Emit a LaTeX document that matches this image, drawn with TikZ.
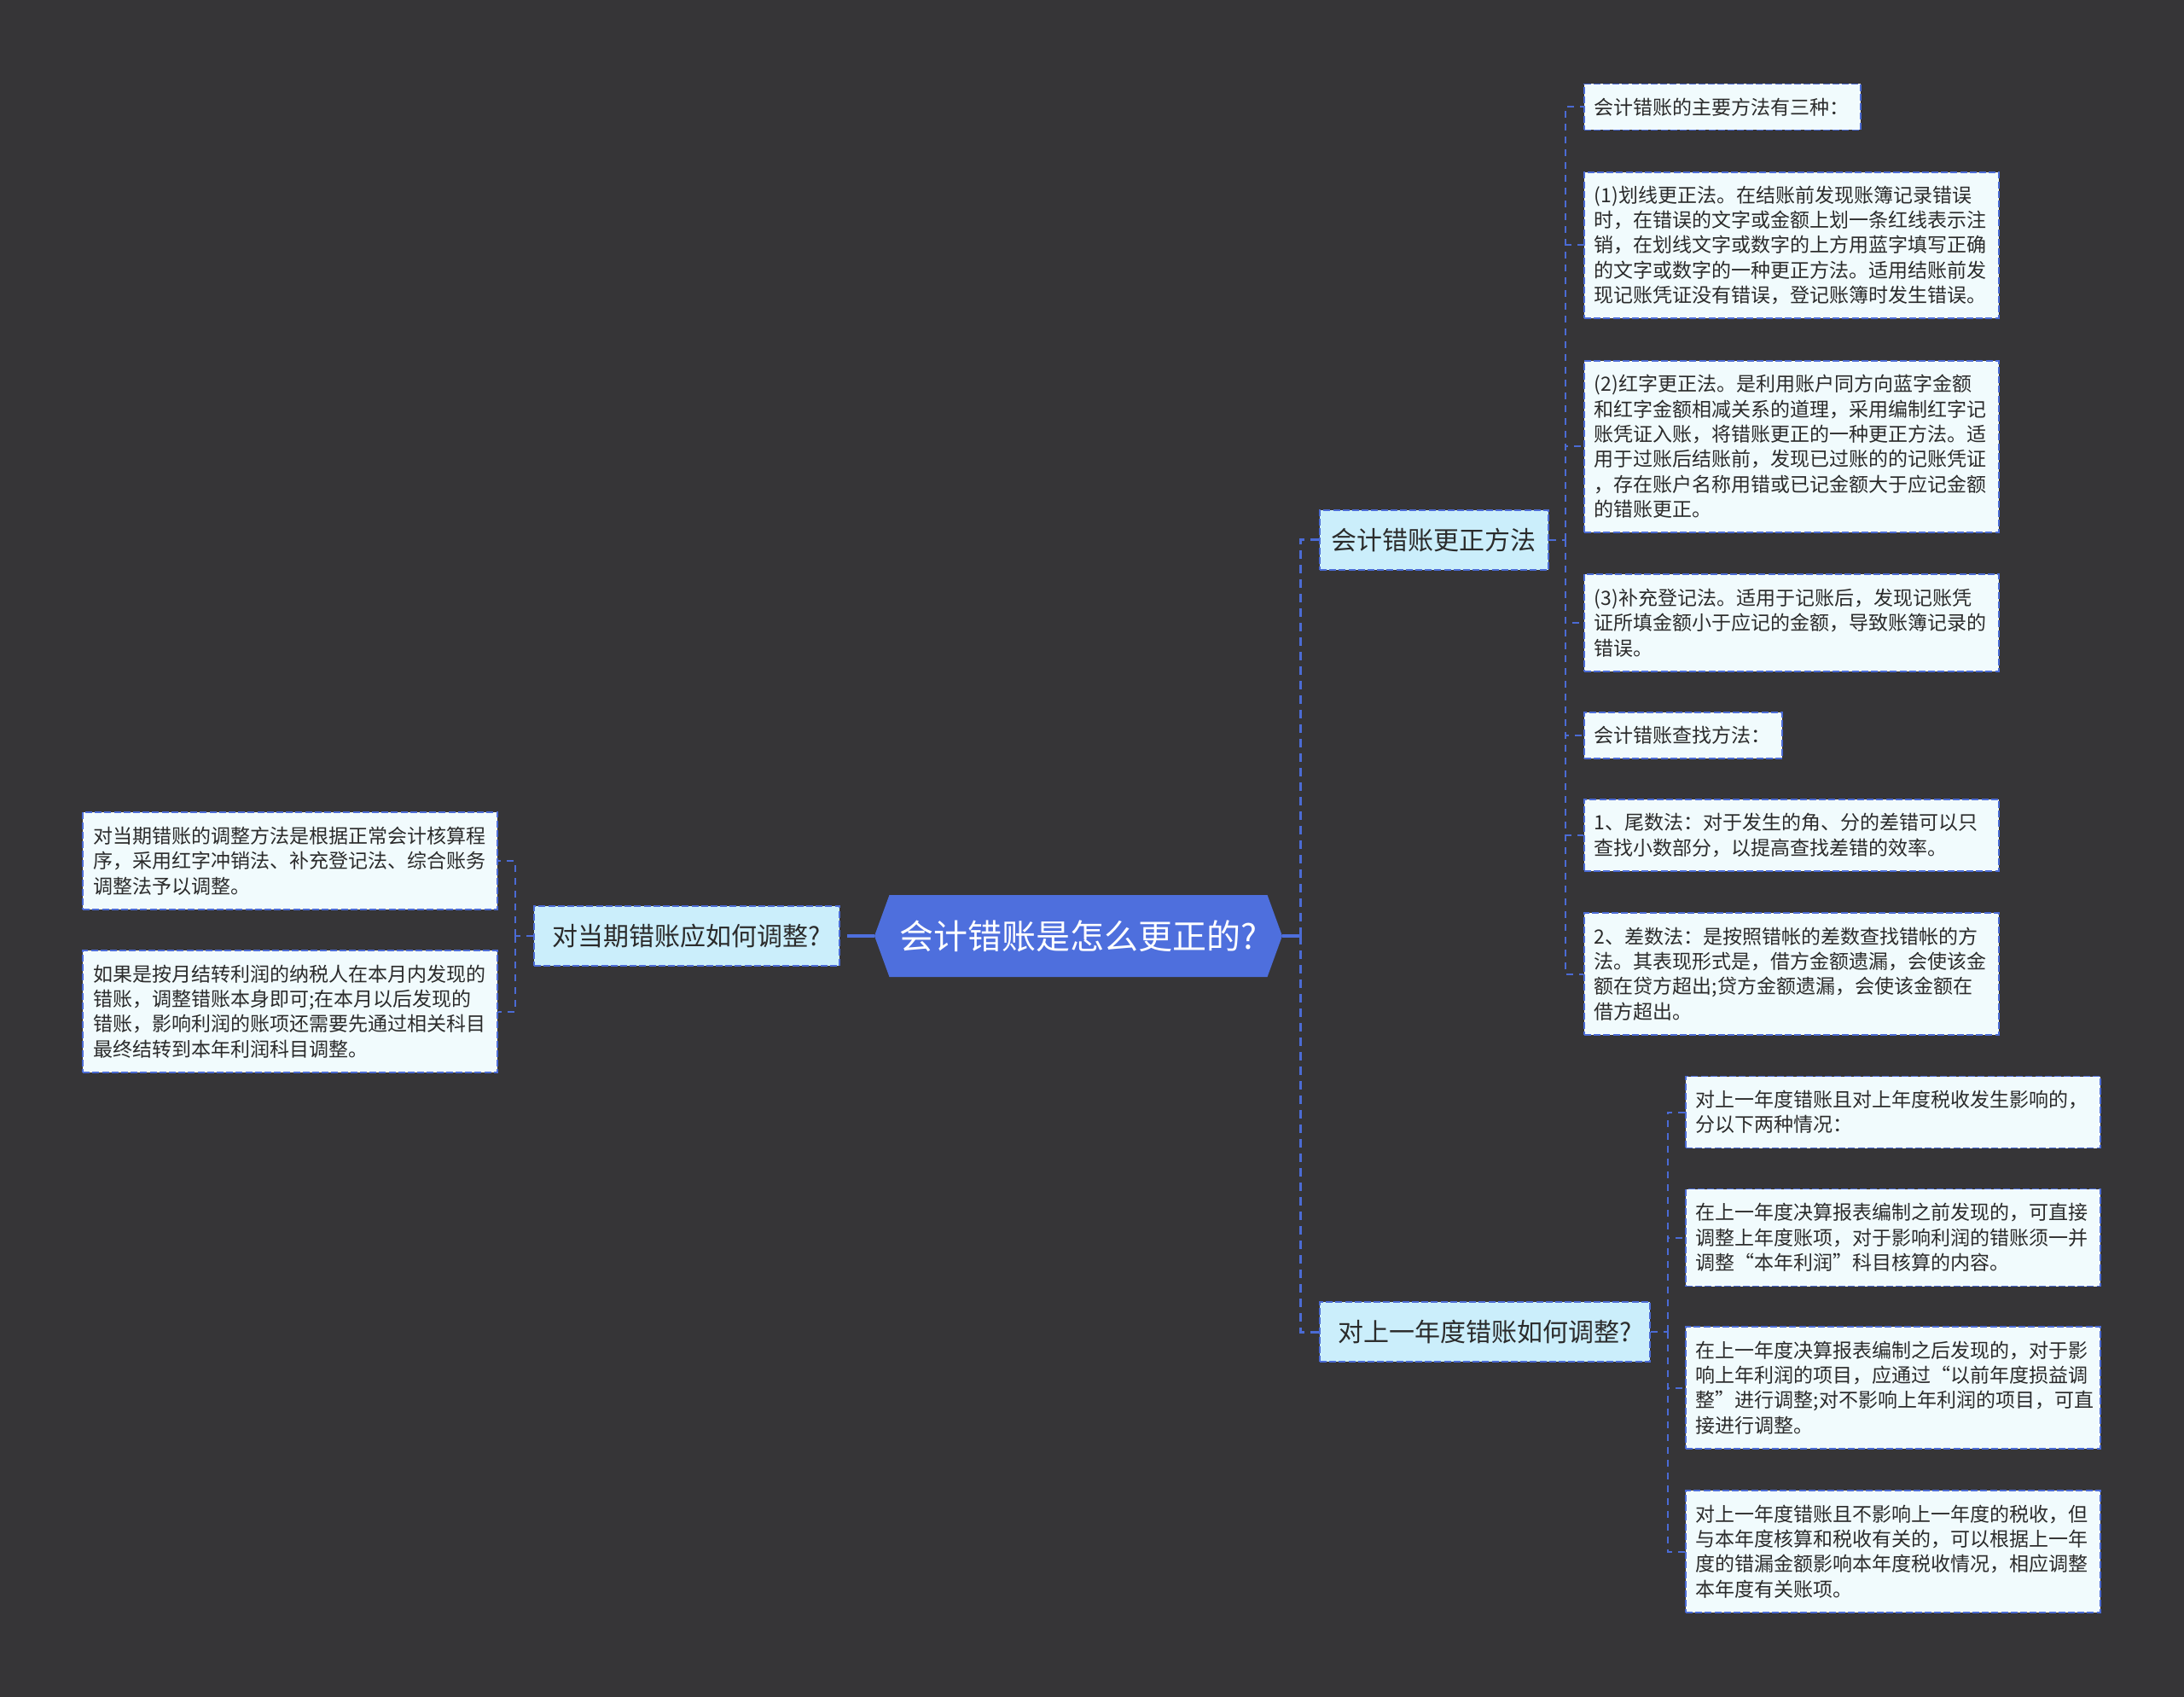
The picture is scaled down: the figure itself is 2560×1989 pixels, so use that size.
\documentclass[tikz,border=0pt]{standalone}
\usepackage{fontspec}
\setmainfont{Noto Sans CJK SC}
\usetikzlibrary{shapes.symbols}
\definecolor{canvas}{HTML}{363537}
\definecolor{hub}{HTML}{4E6FDD}
\definecolor{rim}{HTML}{4B6BD5}
\definecolor{topic}{HTML}{CBEEFB}
\definecolor{note}{HTML}{F1FBFD}
\definecolor{ink}{HTML}{2B2B2B}

\begin{document}
\begin{tikzpicture}[
    x=.5pt,y=-.5pt,
    hubnode/.style={signal,signal to=east and west,signal pointer angle=140,fill=hub,
        text=white,font=\fontsize{20}{23}\selectfont,minimum width=239pt,minimum height=48pt},
    topicnode/.style={draw=rim,fill=topic,text=ink,line width=.9pt,dash pattern=on 4pt off 1.6pt,
        font=\fontsize{15}{18}\selectfont,minimum height=35pt},
    notenode/.style={draw=rim,fill=note,text=ink,line width=.9pt,dash pattern=on 4pt off 1.6pt,
        font=\fontsize{11.5}{14.7}\selectfont,align=left,inner xsep=6pt,inner ysep=0pt,
        text width=231pt},
    stem/.style={draw=hub,line width=2pt,dash pattern=on 16pt off 4pt},
    trunk/.style={draw=rim,line width=1.5pt,dash pattern=on 5pt off 3.5pt},
    twig/.style={draw=rim,line width=1pt,dash pattern=on 4pt off 3.5pt}
]
    \path[fill=canvas] (0,0) rectangle (2560,1989);

    % centre and the three topics
    \node[hubnode] (root) at (1264,1097) {会计错账是怎么更正的?};
    \node[topicnode,anchor=west,minimum width=134pt] (fix) at (1546,633) {会计错账更正方法};
    \node[topicnode,anchor=west,minimum width=193.5pt] (prior) at (1546,1561) {对上一年度错账如何调整?};
    \node[topicnode,anchor=east,minimum width=179pt] (current) at (985,1097) {对当期错账应如何调整?};

    % notes under the correction methods
    \node[notenode,anchor=west,text width=150pt,minimum height=27pt] (fix1) at (1856,125.5)
        {会计错账的主要方法有三种：};
    \node[notenode,anchor=west,minimum height=85.5pt] (fix2) at (1856,287.5)
        {(1)划线更正法。在结账前发现账簿记录错误\\
         时，在错误的文字或金额上划一条红线表示注\\
         销，在划线文字或数字的上方用蓝字填写正确\\
         的文字或数字的一种更正方法。适用结账前发\\
         现记账凭证没有错误，登记账簿时发生错误。};
    \node[notenode,anchor=west,minimum height=100.5pt] (fix3) at (1856,523.5)
        {(2)红字更正法。是利用账户同方向蓝字金额\\
         和红字金额相减关系的道理，采用编制红字记\\
         账凭证入账，将错账更正的一种更正方法。适\\
         用于过账后结账前，发现已过账的的记账凭证\\
         ，存在账户名称用错或已记金额大于应记金额\\
         的错账更正。};
    \node[notenode,anchor=west,minimum height=57pt] (fix4) at (1856,730)
        {(3)补充登记法。适用于记账后，发现记账凭\\
         证所填金额小于应记的金额，导致账簿记录的\\
         错误。};
    \node[notenode,anchor=west,text width=104pt,minimum height=27pt] (fix5) at (1856,862)
        {会计错账查找方法：};
    \node[notenode,anchor=west,minimum height=42pt] (fix6) at (1856,979)
        {1、尾数法：对于发生的角、分的差错可以只\\
         查找小数部分，以提高查找差错的效率。};
    \node[notenode,anchor=west,minimum height=71.5pt] (fix7) at (1856,1141.5)
        {2、差数法：是按照错帐的差数查找错帐的方\\
         法。其表现形式是，借方金额遗漏，会使该金\\
         额在贷方超出;贷方金额遗漏，会使该金额在\\
         借方超出。};

    % notes under the previous year
    \node[notenode,anchor=west,minimum height=42pt] (prior1) at (1975,1303.5)
        {对上一年度错账且对上年度税收发生影响的，\\
         分以下两种情况：};
    \node[notenode,anchor=west,minimum height=57pt] (prior2) at (1975,1450.5)
        {在上一年度决算报表编制之前发现的，可直接\\
         调整上年度账项，对于影响利润的错账须一并\\
         调整“本年利润”科目核算的内容。};
    \node[notenode,anchor=west,minimum height=71.5pt] (prior3) at (1975,1626.5)
        {在上一年度决算报表编制之后发现的，对于影\\
         响上年利润的项目，应通过“以前年度损益调\\
         整”进行调整;对不影响上年利润的项目，可直\\
         接进行调整。};
    \node[notenode,anchor=west,minimum height=71.5pt] (prior4) at (1975,1818.5)
        {对上一年度错账且不影响上一年度的税收，但\\
         与本年度核算和税收有关的，可以根据上一年\\
         度的错漏金额影响本年度税收情况，相应调整\\
         本年度有关账项。};

    % notes under the current period
    \node[notenode,anchor=east,minimum height=57pt] (cur1) at (584,1009)
        {对当期错账的调整方法是根据正常会计核算程\\
         序，采用红字冲销法、补充登记法、综合账务\\
         调整法予以调整。};
    \node[notenode,anchor=east,minimum height=71.5pt] (cur2) at (584,1185.5)
        {如果是按月结转利润的纳税人在本月内发现的\\
         错账，调整错账本身即可;在本月以后发现的\\
         错账，影响利润的账项还需要先通过相关科目\\
         最终结转到本年利润科目调整。};

    % connectors
    \coordinate (spine) at (1524,1097);
    \draw[stem] (root.east) -- (spine);
    \draw[stem] (root.west) -- (current.east);
    \draw[trunk] (spine) |- (fix.west);
    \draw[trunk] (spine) |- (prior.west);

    \draw[twig] (fix.east) -- ++(19,0) coordinate (fixfork);
    \foreach \n in {1,...,7}
        \draw[twig] (fixfork) |- (fix\n.west);
    \draw[twig] (prior.east) -- ++(20,0) coordinate (priorfork);
    \foreach \n in {1,...,4}
        \draw[twig] (priorfork) |- (prior\n.west);
    \draw[twig] (current.west) -- ++(-21,0) coordinate (curfork);
    \foreach \n in {1,2}
        \draw[twig] (curfork) |- (cur\n.east);
\end{tikzpicture}
\end{document}
